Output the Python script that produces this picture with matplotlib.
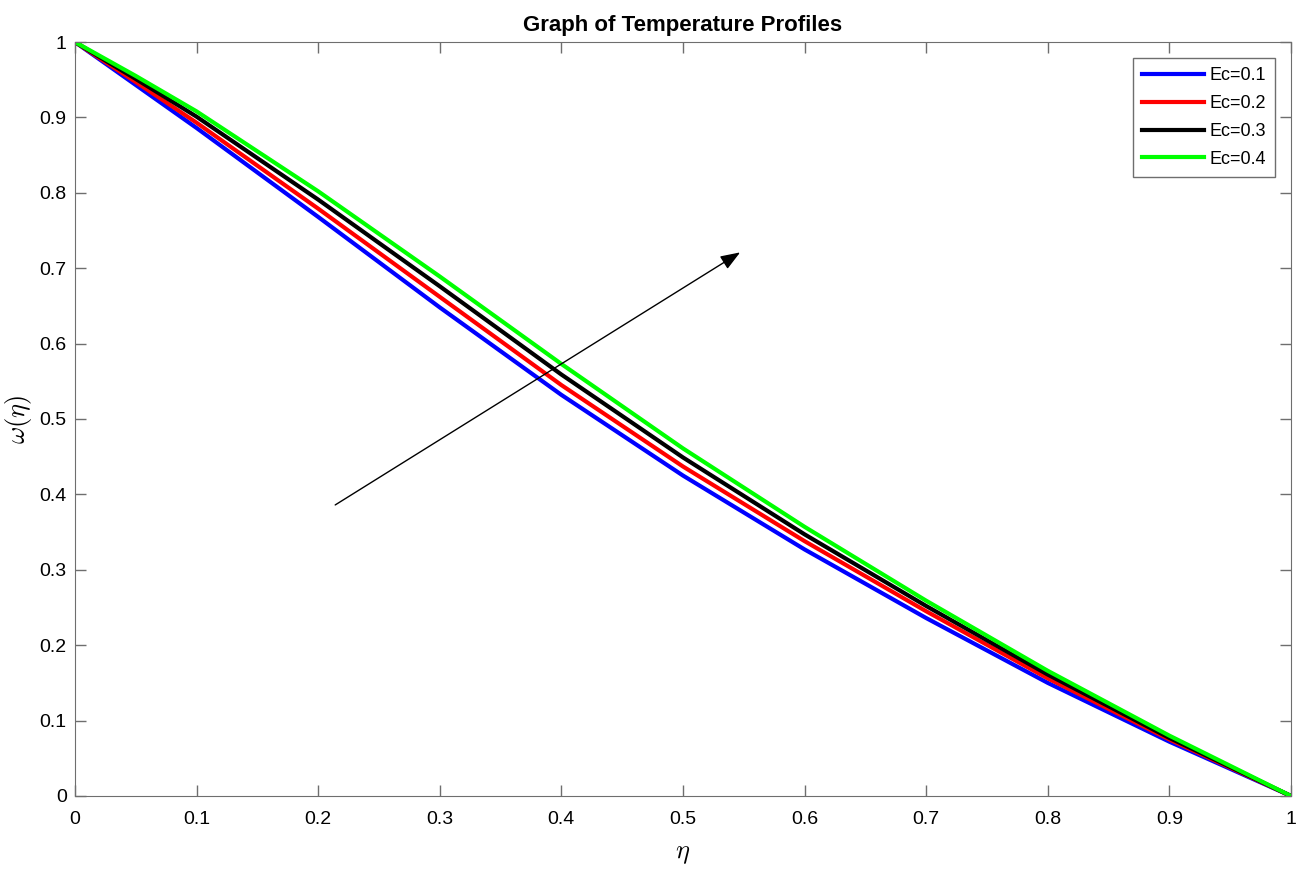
import numpy as np
import matplotlib.pyplot as plt

plt.rcParams['font.family'] = ['Liberation Sans', 'DejaVu Sans']
plt.rcParams['mathtext.fontset'] = 'cm'

# valores
eta = [0.0, 0.05, 0.1, 0.2, 0.3, 0.4, 0.5, 0.6, 0.7, 0.8, 0.9, 1.0]
w_ec1 = [1.0, 0.943, 0.886, 0.768, 0.648, 0.532, 0.425, 0.327, 0.236, 0.150, 0.072, 0.0]
w_ec2 = [1.0, 0.947, 0.893, 0.779, 0.662, 0.545, 0.437, 0.338, 0.245, 0.156, 0.075, 0.0]
w_ec3 = [1.0, 0.951, 0.901, 0.791, 0.676, 0.559, 0.449, 0.347, 0.252, 0.161, 0.077, 0.0]
w_ec4 = [1.0, 0.955, 0.908, 0.802, 0.689, 0.573, 0.461, 0.357, 0.259, 0.166, 0.080, 0.0]
labels = ["Ec=0.1", "Ec=0.2", "Ec=0.3", "Ec=0.4"]
colores = ["#0000ff", "#ff0000", "#000000", "#00ff00"]

fig = plt.figure(figsize=(13.04, 8.72), dpi=100)
ax = fig.add_axes([0.0575, 0.0872, 0.9325, 0.8646])

for w, lab, c in zip([w_ec1, w_ec2, w_ec3, w_ec4], labels, colores):
    ax.plot(eta, w, color=c, linewidth=3, label=lab, solid_joinstyle="round")

# flecha indicando que Ec crece
ax.annotate("", xy=(0.547, 0.721), xytext=(0.214, 0.386),
            arrowprops=dict(arrowstyle="-|>,head_length=1.2,head_width=0.45",
                            color="black", lw=1, shrinkA=0, shrinkB=0))

ax.set_xlim(0, 1)
ax.set_ylim(0, 1)
ax.set_xticks(np.arange(0, 1.01, 0.1))
ax.set_yticks(np.arange(0, 1.01, 0.1))
ax.set_xticklabels(["0", "0.1", "0.2", "0.3", "0.4", "0.5", "0.6", "0.7", "0.8", "0.9", "1"])
ax.set_yticklabels(["0", "0.1", "0.2", "0.3", "0.4", "0.5", "0.6", "0.7", "0.8", "0.9", "1"])
ax.tick_params(direction="in", top=True, right=True, length=8, width=1,
               color="#6e6e6e", labelsize=14, pad=6)
ax.tick_params(axis="x", pad=11)
for s in ax.spines.values():
    s.set_color("#6e6e6e")

ax.set_title("Graph of Temperature Profiles", fontsize=16, fontweight="bold", pad=8)
ax.set_xlabel(r"$\eta$", fontsize=19, labelpad=10)
ax.set_ylabel(r"$\omega(\eta)$", fontsize=19, labelpad=4)

leg = ax.legend(loc="upper right", fontsize=13, fancybox=False, framealpha=1,
                edgecolor="#6e6e6e", handlelength=3.4, borderaxespad=0.9,
                labelspacing=0.6, handletextpad=0.3, borderpad=0.5)
leg.get_frame().set_linewidth(1)

fig.savefig("out.png", dpi=100)
